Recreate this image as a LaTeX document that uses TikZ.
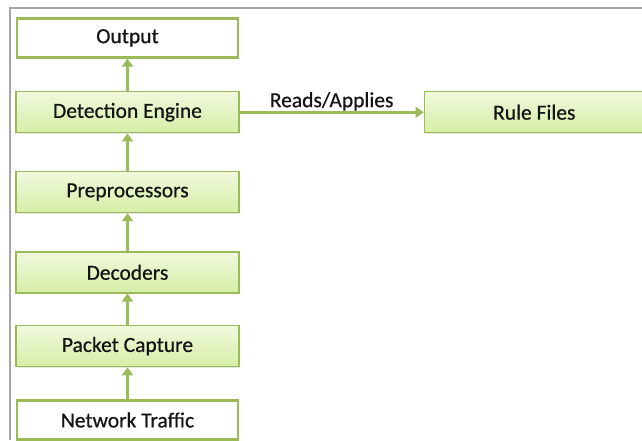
\documentclass[tikz,border=0pt]{standalone}
\usepackage{fontspec}
\setmainfont{Carlito}[FakeBold=0.6]
\usetikzlibrary{
	arrows.meta,
	positioning,
	shadows
}
\definecolor{edgegreen}{HTML}{9BBB59}
\definecolor{filltop}{HTML}{F0F9DD}
\definecolor{fillbottom}{HTML}{D6EEA6}
\definecolor{textdark}{HTML}{141414}

\begin{document}
\begin{tikzpicture}[
    x=1pt, y=-1pt,
    node distance=36pt,
    stage/.style={rectangle, draw=edgegreen, line width=1.3pt, top color=filltop, bottom color=fillbottom,
        minimum width=223pt, minimum height=41pt, font=\fontsize{21.5}{24}\selectfont, text=textdark,
        drop shadow={opacity=0.2, shadow xshift=1pt, shadow yshift=-1.5pt}},
    endbox/.style={rectangle, draw=edgegreen, line width=2.4pt, fill=white,
        minimum width=221pt, minimum height=39pt, font=\fontsize{21.5}{24}\selectfont, text=textdark},
    arrow/.style={draw=edgegreen, line width=2.6pt, -{Triangle[length=8pt, width=11pt]}}
]
\useasboundingbox (0,0) rectangle (642,440);

% Frame
\draw[gray!70, line width=1.6pt] (10,440) -- (10,8) -- (642,8);

% Pipeline (bottom to top)
\node[endbox] (traffic) at (127.5,420) {Network Traffic};
\node[stage, above=32pt of traffic] (capture) {Packet Capture};
\node[stage, above=31.5pt of capture] (decoders) {Decoders};
\node[stage, above=38pt of decoders] (preproc) {Preprocessors};
\node[stage, above=37.5pt of preproc] (engine) {Detection Engine};
\node[endbox, above=32.5pt of engine] (output) {Output};

% Rules
\node[stage, right=184pt of engine, minimum width=240pt] (rules) {\hspace*{-20pt}Rule Files};

% Arrows (main flow)
\draw[arrow] (traffic) -- (capture);
\draw[arrow] (capture) -- (decoders);
\draw[arrow] (decoders) -- (preproc);
\draw[arrow] (preproc) -- (engine);
\draw[arrow] (engine) -- (output);

% Rule reading
\draw[arrow] (engine.east) -- node[above=-3pt, font=\fontsize{21.5}{24}\selectfont, text=textdark] (reads) {Reads/Applies} (rules.west);

\end{tikzpicture}
\end{document}
